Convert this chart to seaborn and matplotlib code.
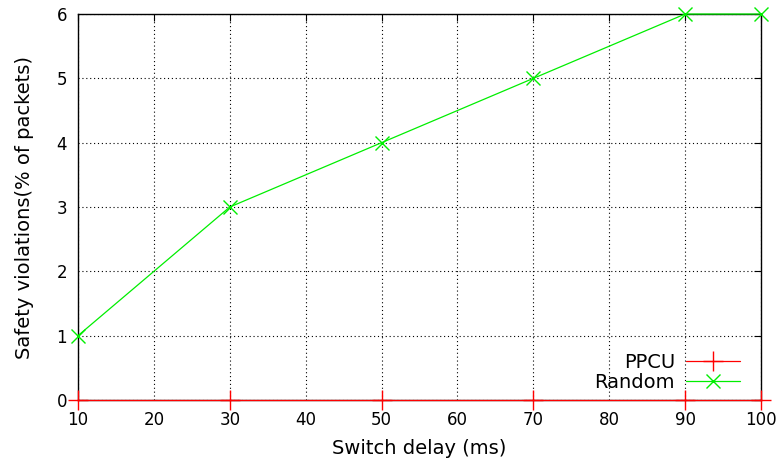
import pandas as pd
import seaborn as sns
import matplotlib.pyplot as plt

# Data
delays = [10, 30, 50, 70, 90, 100]
ppcu = [0, 0, 0, 0, 0, 0]
random_sel = [1, 3, 4, 5, 6, 6]

df = pd.DataFrame({'delay': delays, 'PPCU': ppcu, 'Random': random_sel})

sns.set_style('white')
plt.rcParams['font.family'] = ['DejaVu Sans']
plt.rcParams['text.color'] = 'black'

fig = plt.figure(figsize=(7.83, 4.66), dpi=100)
ax = fig.add_axes([0.0996, 0.1416, 0.8723, 0.8283])

sns.lineplot(data=df, x='delay', y='PPCU', color='#ff0000', marker='+',
             markersize=14, markeredgewidth=1.0, markeredgecolor='#ff0000',
             linewidth=0.9, label='PPCU', clip_on=False, zorder=5, ax=ax)
sns.lineplot(data=df, x='delay', y='Random', color='#00ee00', marker='x',
             markersize=10, markeredgewidth=1.0, markeredgecolor='#00ee00',
             linewidth=0.9, label='Random', clip_on=False, zorder=6, ax=ax)

ax.set_xlim(10, 100)
ax.set_ylim(0, 6)
ax.set_xticks(range(10, 101, 10))
ax.set_yticks(range(0, 7))
ax.grid(True, color='black', linestyle=(0, (1, 2.5)), linewidth=0.8)
ax.tick_params(direction='in', top=True, right=True, length=5,
               labelsize=12, pad=8, colors='black')
for s in ax.spines.values():
    s.set_color('black')
    s.set_linewidth(1.0)

ax.set_xlabel('Switch delay (ms)', fontsize=14, labelpad=7, color='black')
ax.set_ylabel('Safety violations(% of packets)', fontsize=14, labelpad=16,
              color='black')

leg = ax.legend(loc='lower right', frameon=False, markerfirst=False,
                fontsize=14, handlelength=2.8, borderaxespad=0.0,
                labelspacing=0.05, handletextpad=0.55,
                bbox_to_anchor=(0.981, 0.0))

fig.savefig('out.png', dpi=100)
